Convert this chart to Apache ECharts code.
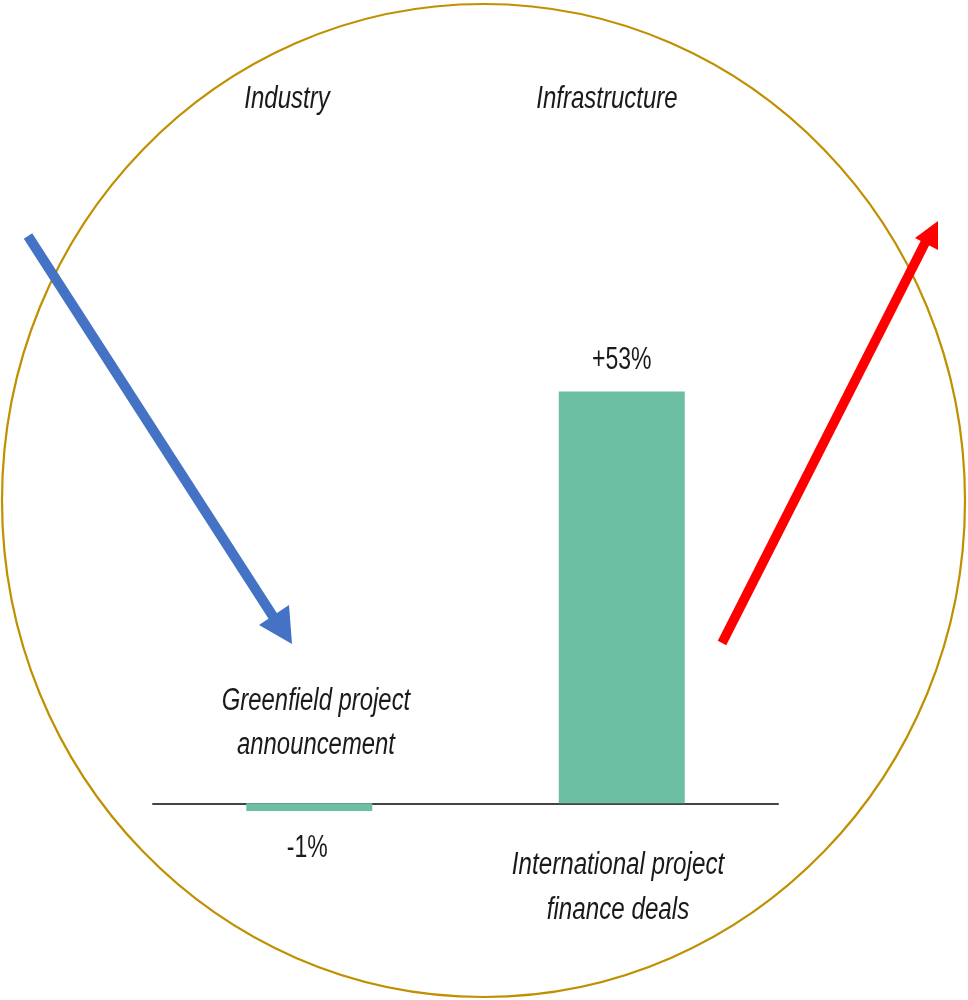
<!DOCTYPE html>
<html>
<head>
<meta charset="utf-8">
<style>
  html, body { margin: 0; padding: 0; background: #ffffff; }
  #chart { width: 968px; height: 1000px; }
</style>
<script src="https://cdn.jsdelivr.net/npm/echarts@6/dist/echarts.min.js"></script>
</head>
<body>
<div id="chart"></div>
<script>
// ---- data ----
var categories = ['Greenfield project announcement', 'International project finance deals'];
var categoryLines = [['Greenfield project', 'announcement'], ['International project', 'finance deals']];
var sectors = ['Industry', 'Infrastructure'];
var values = [-1, 53];
var valueLabels = ['-1%', '+53%'];

var FONT = '"Liberation Sans", Arial, sans-serif';
var GREEN = '#6CBFA2';
var INK = '#1A1A1A';

var chart = echarts.init(document.getElementById('chart'), null, { renderer: 'canvas' });

function baseGraphics() {
  return [
    {
      type: 'ellipse',
      shape: { cx: 483.5, cy: 500.5, rx: 481.5, ry: 496.5 },
      style: { fill: 'none', stroke: '#BF9000', lineWidth: 2.2 },
      z: 0, silent: true
    },
    {
      type: 'text', x: 287, y: 99, scaleX: 0.75,
      style: { text: sectors[0], font: 'italic 32px ' + FONT, fill: INK, align: 'center', verticalAlign: 'middle' },
      z: 10
    },
    {
      type: 'text', x: 607, y: 99, scaleX: 0.75,
      style: { text: sectors[1], font: 'italic 32px ' + FONT, fill: INK, align: 'center', verticalAlign: 'middle' },
      z: 10
    },
    {
      type: 'text', x: 316, y: 723, scaleX: 0.77,
      style: { text: categoryLines[0].join('\n'), font: 'italic 31px ' + FONT, lineHeight: 44, fill: INK, align: 'center', verticalAlign: 'middle' },
      z: 10
    },
    {
      type: 'text', x: 618, y: 888, scaleX: 0.78,
      style: { text: categoryLines[1].join('\n'), font: 'italic 31px ' + FONT, lineHeight: 45, fill: INK, align: 'center', verticalAlign: 'middle' },
      z: 10
    },
    // blue arrow (down)
    {
      type: 'line',
      shape: { x1: 28, y1: 236, x2: 276, y2: 621 },
      style: { stroke: '#4472C4', lineWidth: 10 },
      z: 5
    },
    {
      type: 'polygon',
      shape: { points: [[292, 644], [259, 625], [289, 605]] },
      style: { fill: '#4472C4' },
      z: 5
    },
    // red arrow (up)
    {
      type: 'line',
      shape: { x1: 722, y1: 643, x2: 926, y2: 241 },
      style: { stroke: '#FF0000', lineWidth: 9.5 },
      z: 5
    },
    {
      type: 'polygon',
      shape: { points: [[938, 221], [915, 238], [938, 250]] },
      style: { fill: '#FF0000' },
      z: 5
    }
  ];
}

var option = {
  backgroundColor: '#ffffff',
  animation: false,
  grid: { left: 153, right: 190, top: 337, bottom: 119, containLabel: false },
  xAxis: {
    type: 'category',
    data: categories,
    axisLine: { show: true, onZero: true, lineStyle: { color: '#444444', width: 2 } },
    axisTick: { show: false },
    axisLabel: { show: false },
    splitLine: { show: false }
  },
  yAxis: {
    type: 'value',
    min: -10,
    max: 60,
    show: false,
    splitLine: { show: false }
  },
  series: [{
    type: 'bar',
    data: values,
    barWidth: 126,
    itemStyle: { color: GREEN },
    z: 1
  }],
  graphic: baseGraphics()
};

chart.setOption(option);

// value labels, positioned through the chart's own scales
var labelGraphics = values.map(function (v, i) {
  var p = chart.convertToPixel({ seriesIndex: 0 }, [i, v]);
  var dy = v < 0 ? 37 : -31;
  var dx = v < 0 ? -2 : 0;
  return {
    type: 'text', x: p[0] + dx, y: p[1] + dy, scaleX: 0.72,
    style: { text: valueLabels[i], font: '32px ' + FONT, fill: INK, align: 'center', verticalAlign: 'middle' },
    z: 10
  };
});
option.graphic = baseGraphics().concat(labelGraphics);
chart.setOption(option, true);
</script>
</body>
</html>
